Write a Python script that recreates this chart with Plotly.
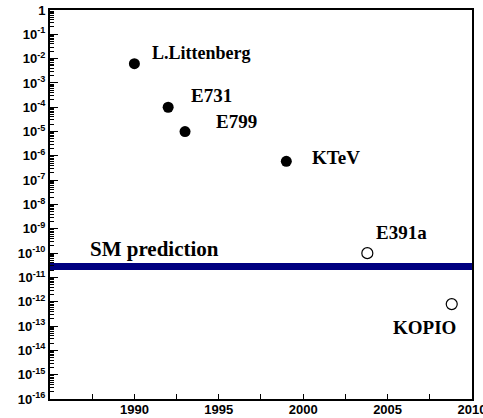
import math
import plotly.graph_objects as go

# ---- data ----
exp_names = ["L.Littenberg", "E731", "E799", "KTeV", "E391a", "KOPIO"]
exp_years = [1990, 1992, 1993, 1999, 2003.8, 2008.8]
exp_limits = [6.2e-3, 1.0e-4, 1.0e-5, 6.0e-7, 1.0e-10, 8.0e-13]
exp_future = [False, False, False, False, True, True]
sm_label = "SM prediction"
sm_value = 2.8e-11
x_range = [1985, 2010]
x_tickvals = [1990, 1995, 2000, 2005, 2010]
y_exponents = list(range(0, -17, -1))

# ---- styling (offsets in pixels) ----
label_offsets = [(67, 11), (43, 12), (51, 10), (50, 4), (34, 21), (-27, -23)]
label_sizes = [18, 19, 19, 19, 19, 19]

fig = go.Figure()

# SM band
fig.add_trace(go.Scatter(x=x_range, y=[sm_value, sm_value], mode="lines",
                         line=dict(color="#000080", width=7), hoverinfo="skip",
                         showlegend=False))

done_x = [x for x, f in zip(exp_years, exp_future) if not f]
done_y = [y for y, f in zip(exp_limits, exp_future) if not f]
fut_x = [x for x, f in zip(exp_years, exp_future) if f]
fut_y = [y for y, f in zip(exp_limits, exp_future) if f]

fig.add_trace(go.Scatter(x=done_x, y=done_y, mode="markers",
                         marker=dict(color="black", size=11, symbol="circle"),
                         showlegend=False))
fig.add_trace(go.Scatter(x=fut_x, y=fut_y, mode="markers",
                         marker=dict(color="white", size=11, symbol="circle",
                                     line=dict(color="black", width=1.2)),
                         showlegend=False))

serif = "Liberation Serif"
for name, x, y, (dx, dy), fs in zip(exp_names, exp_years, exp_limits, label_offsets, label_sizes):
    fig.add_annotation(x=x, y=math.log10(y), text=name, showarrow=False,
                       xshift=dx, yshift=dy,
                       font=dict(family=serif, size=fs, color="black", weight="bold"))

fig.add_annotation(x=x_range[0], y=math.log10(sm_value), text=sm_label, showarrow=False,
                   xanchor="left", xshift=38, yshift=17.5,
                   font=dict(family=serif, size=21, color="black", weight="bold"))

y_tickvals = [10.0 ** e for e in y_exponents]
y_ticktext = ["1" if e == 0 else "10<sup>%d</sup>" % e for e in y_exponents]

fig.update_layout(
    width=483, height=418,
    template="none",
    paper_bgcolor="white", plot_bgcolor="white",
    margin=dict(l=50, r=11, t=10, b=19),
    xaxis=dict(range=[x_range[0], x_range[1] + 0.001], tickvals=x_tickvals, ticks="inside", ticklen=5,
               tickcolor="black", tickwidth=1, showgrid=False, zeroline=False,
               showline=True, linecolor="black", linewidth=2, mirror=True,
               automargin=False, ticklabeloverflow="allow", ticklabelstandoff=-3,
               minor=dict(ticks="inside", ticklen=5, dtick=2.5, tick0=1985, tickcolor="black"),
               tickfont=dict(family="Liberation Sans", size=13, color="black", weight="bold")),
    yaxis=dict(type="log", range=[-16, 0], tickvals=y_tickvals, ticktext=y_ticktext,
               ticks="inside", ticklen=8, tickcolor="black", tickwidth=1,
               showgrid=False, zeroline=False,
               showline=True, linecolor="black", linewidth=2, mirror=True,
               automargin=False, ticklabeloverflow="allow",
               minor=dict(ticks="inside", ticklen=4, dtick="D1", tickcolor="black"),
               tickfont=dict(family="Liberation Sans", size=13, color="black", weight="bold")),
)

fig.write_html("out.html")
